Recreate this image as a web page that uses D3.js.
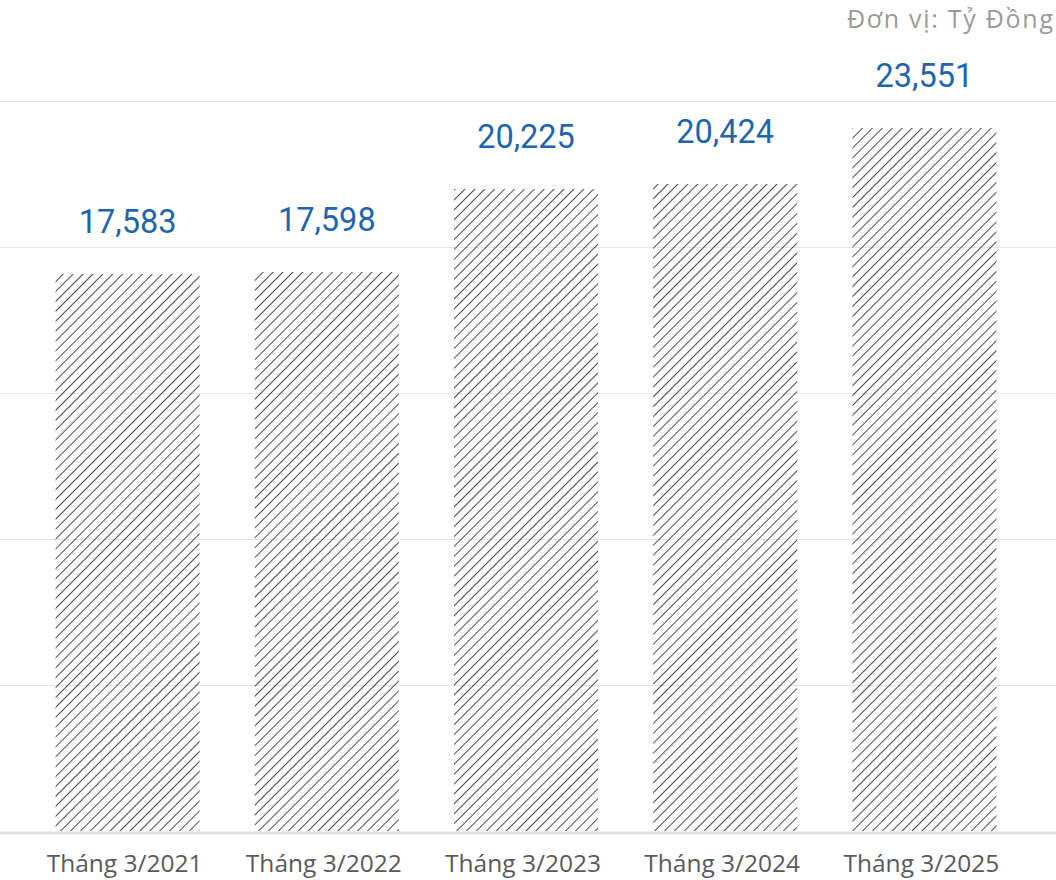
<!DOCTYPE html>
<html>
<head>
<meta charset="utf-8">
<script src="https://cdn.jsdelivr.net/npm/d3@7"></script>
<style>
  html, body { margin: 0; padding: 0; background: #fff; }
  svg { display: block; }
</style>
</head>
<body>
<svg id="chart" width="1056" height="880"></svg>
<script>
// ---- data ----
const categories = ["Tháng 3/2021", "Tháng 3/2022", "Tháng 3/2023", "Tháng 3/2024", "Tháng 3/2025"];
// values printed above bars (Tỷ Đồng)
const labelValues = [17583, 17598, 20225, 20424, 23551];
// bar heights (same units)
const barHeights = [19075, 19144, 21986, 22158, 24075];
const gridTicks = [0, 5000, 10000, 15000, 20000, 25000];
const unitLabel = "Đơn vị: Tỷ Đồng";

const W = 1056, H = 880;
const svg = d3.select("#chart");

const defs = svg.append("defs");
const pat = defs.append("pattern")
  .attr("id", "hatch")
  .attr("patternUnits", "userSpaceOnUse")
  .attr("width", 7).attr("height", 7)
  .attr("patternTransform", "rotate(45)");
pat.append("line")
  .attr("x1", 0).attr("y1", -1).attr("x2", 0).attr("y2", 8)
  .attr("stroke", "#111").attr("stroke-width", 1.5);

const x = d3.scaleBand().domain(categories).range([28, 1024])
  .paddingInner(0.277).paddingOuter(0.1385);
const y = d3.scaleLinear().domain([0, 25000]).range([831, 101]);

// gridlines
svg.append("g").selectAll("line").data(gridTicks.filter(t => t > 0)).join("line")
  .attr("x1", 0).attr("x2", W)
  .attr("y1", d => Math.round(y(d)) + 0.5).attr("y2", d => Math.round(y(d)) + 0.5)
  .attr("stroke", "#e6e6e6").attr("stroke-width", 1);

// bars
svg.append("g").selectAll("rect").data(categories).join("rect")
  .attr("x", d => x(d))
  .attr("width", x.bandwidth())
  .attr("y", (d, i) => y(barHeights[i]))
  .attr("height", (d, i) => y(0) - y(barHeights[i]))
  .attr("fill", "url(#hatch)");

// baseline
svg.append("line")
  .attr("x1", 0).attr("x2", W)
  .attr("y1", y(0) + 2).attr("y2", y(0) + 2)
  .attr("stroke", "#e0e0e0").attr("stroke-width", 3);

// value labels
svg.append("g").selectAll("text").data(categories).join("text")
  .attr("x", d => x(d) + x.bandwidth() / 2)
  .attr("y", (d, i) => y(barHeights[i]) - 41)
  .attr("text-anchor", "middle")
  .attr("font-family", "Roboto, 'Noto Sans', sans-serif")
  .attr("font-size", 32.5)
  .attr("font-weight", 400)
  .attr("fill", "#1d66ad")
  .text((d, i) => d3.format(",")(labelValues[i]));

// x axis labels
svg.append("g").selectAll("text").data(categories).join("text")
  .attr("x", d => x(d) + x.bandwidth() / 2 - 3)
  .attr("y", 872)
  .attr("text-anchor", "middle")
  .attr("font-family", "'Open Sans', 'Noto Sans', sans-serif")
  .attr("font-size", 24.5)
  .attr("fill", "#5a5a5a")
  .text(d => d);

// unit label
svg.append("text")
  .attr("x", 1053).attr("y", 28)
  .attr("text-anchor", "end")
  .attr("font-family", "'Open Sans', 'Noto Sans', sans-serif")
  .attr("font-size", 25)
  .attr("fill", "#9a9a9a")
  .attr("textLength", 206)
  .attr("lengthAdjust", "spacing")
  .text(unitLabel);
</script>
</body>
</html>
